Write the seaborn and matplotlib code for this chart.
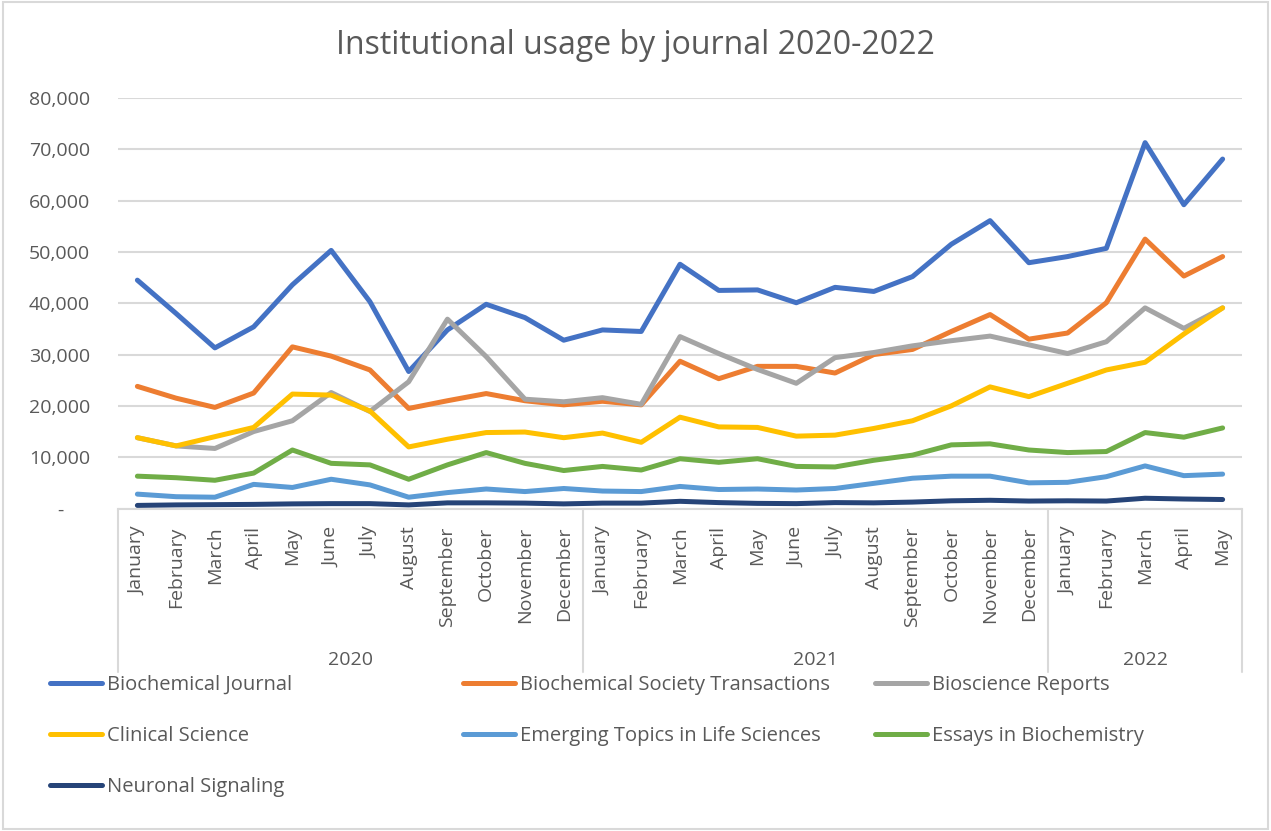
import numpy as np
import pandas as pd
import seaborn as sns
import matplotlib.pyplot as plt
from matplotlib.ticker import FuncFormatter
from matplotlib.lines import Line2D
from matplotlib.patches import Rectangle

# Dados
meses = ['January', 'February', 'March', 'April', 'May', 'June', 'July',
         'August', 'September', 'October', 'November', 'December']
anos = ['2020', '2021', '2022']
meses_por_ano = [12, 12, 5]

biochemical_journal = [44500, 38000, 31300, 35400, 43600, 50300, 40300, 26700, 34800, 39800,
                       37200, 32800, 34800, 34500, 47600, 42500, 42600, 40100, 43100, 42300,
                       45200, 51500, 56100, 47900, 49100, 50700, 71300, 59200, 68100]
biochemical_society_transactions = [23800, 21500, 19700, 22500, 31500, 29700, 27000, 19500, 21000, 22400,
                                    21000, 20200, 20900, 20200, 28700, 25300, 27700, 27700, 26400, 30000,
                                    31000, 34500, 37800, 33000, 34200, 40100, 52500, 45300, 49100]
bioscience_reports = [13800, 12200, 11700, 15000, 17100, 22600, 18900, 24700, 36900, 29600,
                      21300, 20800, 21600, 20300, 33500, 30200, 27100, 24400, 29400, 30400,
                      31700, 32700, 33600, 31900, 30200, 32500, 39100, 35100, 39100]
clinical_science = [13800, 12200, 14000, 15800, 22300, 22100, 19000, 12000, 13500, 14800,
                    14900, 13800, 14700, 12900, 17800, 15900, 15800, 14100, 14300, 15600,
                    17100, 20000, 23700, 21800, 24400, 27000, 28500, 34000, 39100]
emerging_topics = [2800, 2300, 2200, 4700, 4100, 5700, 4600, 2200, 3100, 3800,
                   3300, 3900, 3400, 3300, 4300, 3700, 3800, 3600, 3900, 4900,
                   5900, 6300, 6300, 5000, 5100, 6200, 8300, 6400, 6700]
essays_biochemistry = [6300, 6000, 5500, 6900, 11400, 8800, 8500, 5700, 8500, 10900,
                       8800, 7400, 8200, 7500, 9700, 9000, 9700, 8200, 8100, 9400,
                       10400, 12400, 12600, 11400, 10900, 11100, 14800, 13900, 15700]
neuronal_signaling = [600, 700, 750, 800, 900, 950, 950, 700, 1100, 1100,
                      1050, 900, 1050, 1050, 1400, 1150, 1000, 950, 1150, 1100,
                      1250, 1500, 1600, 1450, 1500, 1450, 2000, 1850, 1750]

series = {
    'Biochemical Journal': biochemical_journal,
    'Biochemical Society Transactions': biochemical_society_transactions,
    'Bioscience Reports': bioscience_reports,
    'Clinical Science': clinical_science,
    'Emerging Topics in Life Sciences': emerging_topics,
    'Essays in Biochemistry': essays_biochemistry,
    'Neuronal Signaling': neuronal_signaling,
}
cores = ['#4472C4', '#ED7D31', '#A5A5A5', '#FFC000', '#5B9BD5', '#70AD47', '#264478']

rotulos_x = []
for ano, n in zip(anos, meses_por_ano):
    rotulos_x += meses[:n]
pos = np.arange(len(rotulos_x))

df = pd.DataFrame([(nome, i, v) for nome, vals in series.items() for i, v in zip(pos, vals)],
                  columns=['journal', 'pos', 'usage'])

sns.set_style('white')
plt.rcParams['font.family'] = ['Open Sans', 'DejaVu Sans']
texto = '#595959'
grade = '#D9D9D9'

fig = plt.figure(figsize=(12.71, 8.31), dpi=100)
ax = fig.add_axes([118 / 1271, 1 - 508.5 / 831, (1242 - 118) / 1271, (508.5 - 98) / 831])

sns.lineplot(data=df, x='pos', y='usage', hue='journal', palette=cores, sort=False,
             linewidth=3.6, legend=False, ax=ax, solid_capstyle='round', solid_joinstyle='round')

ax.set_xlim(-0.5, len(pos) - 0.5)
ax.set_ylim(0, 80000)
ax.set_yticks(np.arange(0, 80001, 10000))
ax.yaxis.set_major_formatter(FuncFormatter(lambda v, p: '-     ' if v == 0 else f'{v:,.0f}'))
ax.grid(axis='y', color=grade, linewidth=1.5)
ax.set_axisbelow(True)
for s in ['top', 'right', 'left']:
    ax.spines[s].set_visible(False)
ax.spines['bottom'].set_color(grade)
ax.spines['bottom'].set_linewidth(1.5)

ax.set_xticks(pos)
ax.set_xticklabels(rotulos_x, rotation=90, va='top', ha='center')
ax.tick_params(axis='x', length=0, pad=13, labelsize=14, labelcolor=texto)
ax.tick_params(axis='y', length=0, pad=20, labelsize=14, labelcolor=texto)
ax.set_xlabel('')
ax.set_ylabel('')

# Eixo de duas linhas: anos e separadores
tr = ax.get_xaxis_transform()
limites = np.concatenate([[0], np.cumsum(meses_por_ano)]) - 0.5
for b in limites:
    ax.plot([b, b], [0, -0.398], transform=tr, color=grade, linewidth=1.5, clip_on=False)
for ano, a, b in zip(anos, limites[:-1], limites[1:]):
    ax.text((a + b) / 2, -0.369, ano, transform=tr, ha='center', va='center',
            fontsize=14, color=texto)

fig.suptitle('Institutional usage by journal 2020-2022', y=1 - 46 / 831, va='center',
             fontsize=23, color=texto)

# Legenda em três colunas, posicionadas como no original
nomes = list(series.keys())
colunas = [[0, 3, 6], [1, 4], [2, 5]]
xs = [50, 463, 875]
for col, x0 in zip(colunas, xs):
    handles = [Line2D([], [], color=cores[i], linewidth=3.6, solid_capstyle='round') for i in col]
    fig.legend(handles, [nomes[i] for i in col], loc='upper left',
               bbox_to_anchor=(x0 / 1271, 1 - 675 / 831), frameon=False, fontsize=14.5,
               labelcolor=texto, handlelength=2.6, handletextpad=0.25, labelspacing=1.55,
               borderaxespad=0, borderpad=0)

fig.patches.append(Rectangle((0.002, 0.002), 0.996, 0.996, transform=fig.transFigure,
                             fill=False, edgecolor=grade, linewidth=1.5))

fig.savefig('out.png', dpi=100, facecolor='white')
